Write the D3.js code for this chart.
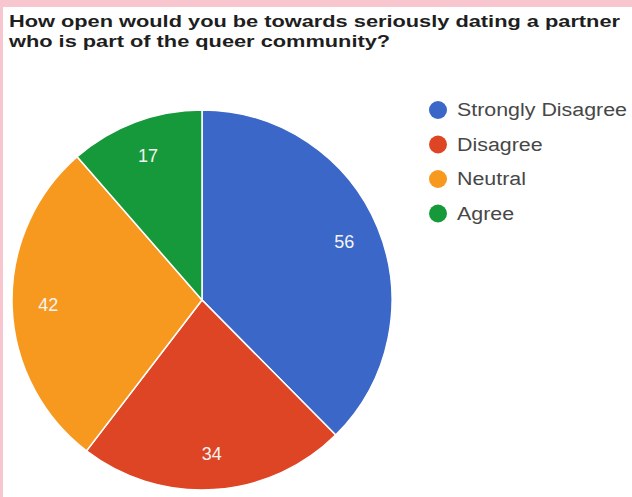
<!DOCTYPE html>
<html>
<head>
<meta charset="utf-8">
<script src="https://cdn.jsdelivr.net/npm/d3@7"></script>
<style>
  html, body { margin: 0; padding: 0; background: #ffffff; }
  svg { display: block; }
</style>
</head>
<body>
<script>
// Survey answers, in drawing order (clockwise from 12 o'clock)
const categories = ["Strongly Disagree", "Disagree", "Neutral", "Agree"];
const counts = [56, 34, 42, 17];
const colors = ["#3a67c8", "#de4524", "#f7991f", "#16993a"];
const titleLines = [
  "How open would you be towards seriously dating a partner",
  "who is part of the queer community?"
];

const W = 632, H = 497;
const svg = d3.select("body").append("svg")
  .attr("width", W).attr("height", H);

svg.append("rect").attr("width", W).attr("height", H).attr("fill", "#ffffff");

// pink frame strips along the top and left edges
svg.append("rect").attr("x", 0).attr("y", 0).attr("width", W).attr("height", 7).attr("fill", "#f7c6cf");
svg.append("rect").attr("x", 0).attr("y", 0).attr("width", 3).attr("height", H).attr("fill", "#f7c6cf");

// widen a group of texts by a common factor so the first one spans `target` px
function stretch(nodes, target) {
  const k = target / nodes[0].getComputedTextLength();
  nodes.forEach(n => {
    d3.select(n)
      .attr("textLength", (n.getComputedTextLength() * k).toFixed(1))
      .attr("lengthAdjust", "spacingAndGlyphs");
  });
}

// title
const title = svg.append("g")
  .attr("font-family", "Liberation Sans, Arial, sans-serif")
  .attr("font-weight", "bold")
  .attr("font-size", 16)
  .attr("fill", "#1e1e1e");
const tl = title.selectAll("text").data(titleLines).join("text")
  .attr("x", 9)
  .attr("y", (d, i) => 27 + i * 19.5)
  .text(d => d);
stretch(tl.nodes(), 611);

// pie
const cx = 202, cy = 300, R = 190;
const pie = d3.pie().sort(null).value(d => d)(counts);
const arc = d3.arc().innerRadius(0).outerRadius(R);
const labelArc = d3.arc().innerRadius(R * 0.81).outerRadius(R * 0.81);

const g = svg.append("g").attr("transform", `translate(${cx},${cy})`);
g.selectAll("path.slice").data(pie).join("path")
  .attr("class", "slice")
  .attr("d", arc)
  .attr("fill", (d, i) => colors[i])
  .attr("stroke", "#ffffff")
  .attr("stroke-width", 1.5);

g.selectAll("text.val").data(pie).join("text")
  .attr("class", "val")
  .attr("transform", d => `translate(${labelArc.centroid(d)})`)
  .attr("text-anchor", "middle")
  .attr("dy", "0.36em")
  .attr("font-family", "Liberation Sans, Arial, sans-serif")
  .attr("font-size", 18)
  .attr("fill", "#f4f4f4")
  .text(d => d.data);

// legend
const legend = svg.append("g").attr("transform", "translate(438,110)");
const items = legend.selectAll("g.item").data(categories).join("g")
  .attr("class", "item")
  .attr("transform", (d, i) => `translate(0,${i * 34.5})`);
items.append("circle").attr("r", 9).attr("fill", (d, i) => colors[i]);
const labels = items.append("text")
  .attr("x", 19)
  .attr("dy", "0.36em")
  .attr("font-family", "Liberation Sans, Arial, sans-serif")
  .attr("font-size", 18)
  .attr("fill", "#474747")
  .text(d => d);
stretch(labels.nodes(), 170);
</script>
</body>
</html>
